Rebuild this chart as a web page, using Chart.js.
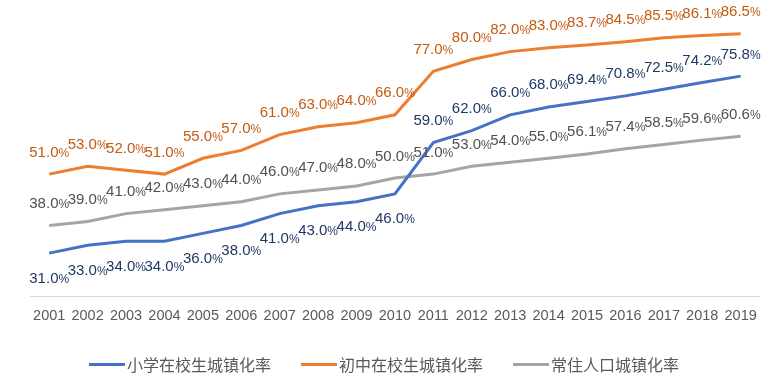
<!DOCTYPE html>
<html><head><meta charset="utf-8">
<script src="https://cdn.jsdelivr.net/npm/chart.js@4/dist/chart.umd.min.js"></script>
<style>
html,body{margin:0;padding:0;background:#fff;}
#wrap{position:relative;width:768px;height:390px;}
#legend{position:absolute;left:0;top:354px;width:768px;height:20px;display:flex;justify-content:center;align-items:center;font-family:"Noto Sans CJK SC",sans-serif;font-size:16px;color:#595959;}
.item{display:flex;align-items:center;margin:0 15px;}
.sw{width:36px;height:3px;margin-right:2px;}
</style></head>
<body><div id="wrap"><canvas id="c" width="768" height="390"></canvas><div id="legend"></div></div>
<script>
const years = ["2001","2002","2003","2004","2005","2006","2007","2008","2009","2010","2011","2012","2013","2014","2015","2016","2017","2018","2019"];
const seriesNames = ["小学在校生城镇化率","初中在校生城镇化率","常住人口城镇化率"];
const primary = [31.0,33.0,34.0,34.0,36.0,38.0,41.0,43.0,44.0,46.0,59.0,62.0,66.0,68.0,69.4,70.8,72.5,74.2,75.8];
const junior = [51.0,53.0,52.0,51.0,55.0,57.0,61.0,63.0,64.0,66.0,77.0,80.0,82.0,83.0,83.7,84.5,85.5,86.1,86.5];
const urban = [38.0,39.0,41.0,42.0,43.0,44.0,46.0,47.0,48.0,50.0,51.0,53.0,54.0,55.0,56.1,57.4,58.5,59.6,60.6];

const lineColors = ["#4472c4","#ed7d31","#a5a5a5"];
const labelColors = ["#1f3864","#c55a11","#505050"];
// label below the point for primary school before 2011
const belowUntil = [10,0,0];

const labelPlugin = {
  id:'vals',
  afterDatasetsDraw(chart){
    const ctx = chart.ctx;
    chart.data.datasets.forEach((ds,di)=>{
      const meta = chart.getDatasetMeta(di);
      meta.data.forEach((pt,i)=>{
        const v = ds.data[i];
        const num = v.toFixed(1);
        ctx.save();
        ctx.fillStyle = labelColors[di];
        ctx.textBaseline = 'alphabetic';
        ctx.font = '15px "Liberation Sans", Arial, sans-serif';
        const w1 = ctx.measureText(num).width;
        ctx.font = '12px "Liberation Sans Narrow", "Liberation Sans", sans-serif';
        const w2 = ctx.measureText('%').width;
        const total = w1 + w2;
        const x0 = pt.x - total/2;
        const below = i < belowUntil[di];
        const yc = below ? pt.y + 24 : pt.y - 23;
        const base = yc + 5.5;
        ctx.font = '15px "Liberation Sans", Arial, sans-serif';
        ctx.textAlign = 'left';
        ctx.fillText(num, x0, base);
        ctx.font = '12px "Liberation Sans Narrow", "Liberation Sans", sans-serif';
        ctx.fillText('%', x0 + w1, base);
        ctx.restore();
      });
    });
  }
};

const allData = [primary, junior, urban];
new Chart(document.getElementById('c'), {
  type:'line',
  data:{
    labels: years,
    datasets: allData.map((d,i)=>({
      label: seriesNames[i], data: d, borderColor: lineColors[i], backgroundColor: lineColors[i],
      borderWidth: 3, pointRadius: 0, tension: 0, fill:false
    }))
  },
  options:{
    responsive:false, animation:false,
    layout:{padding:{left:30,right:8,top:20,bottom:54}},
    plugins:{legend:{display:false},tooltip:{enabled:false}},
    scales:{
      x:{offset:true, grid:{display:false, drawTicks:false},
         border:{display:true,color:'#d9d9d9',width:1},
         ticks:{color:'#595959',padding:11,font:{family:'"Liberation Sans", Arial, sans-serif',size:14.5},maxRotation:0,autoSkip:false}},
      y:{display:false,min:20,max:90}
    }
  },
  plugins:[labelPlugin]
});

const lg = document.getElementById('legend');
seriesNames.forEach((n,i)=>{
  const it = document.createElement('div'); it.className='item';
  const sw = document.createElement('div'); sw.className='sw'; sw.style.background=lineColors[i];
  const tx = document.createElement('span'); tx.textContent=n;
  it.appendChild(sw); it.appendChild(tx); lg.appendChild(it);
});
</script></body></html>
